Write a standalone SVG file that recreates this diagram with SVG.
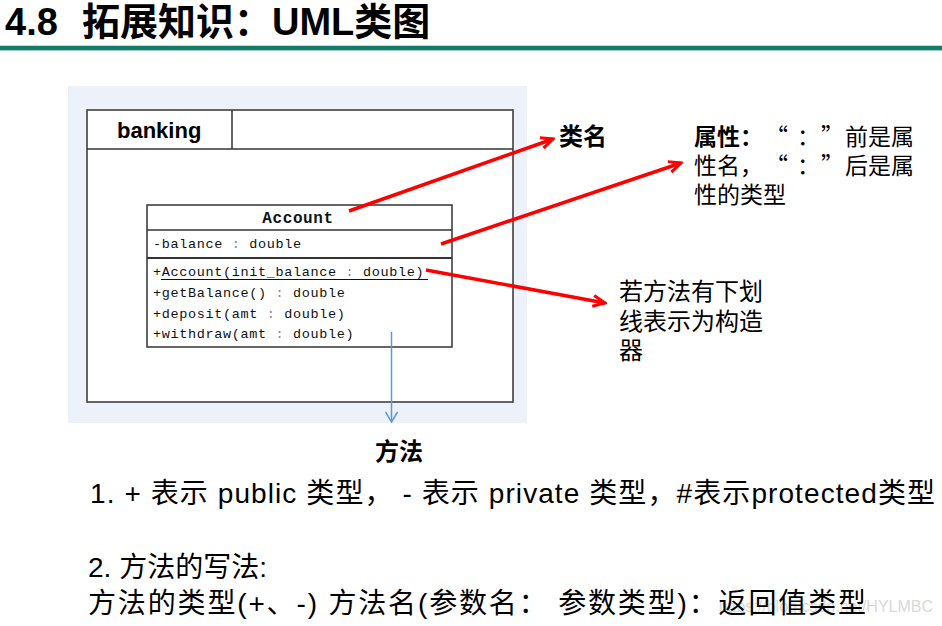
<svg xmlns="http://www.w3.org/2000/svg" width="942" height="626" viewBox="0 0 942 626">
<style>
.sans{font-family:"Liberation Sans","Noto Sans CJK SC",sans-serif;}
.cjk{font-family:"Noto Sans CJK SC",sans-serif;}
.mono{font-family:"Liberation Mono",monospace;font-size:13.5px;letter-spacing:0.65px;fill:#111;}
.box{fill:#fff;stroke:#333;stroke-width:1.5;}
.red{stroke:#ff0000;stroke-width:3.5;fill:none;}
.blue{stroke:#5b9bd5;stroke-width:1.5;fill:none;}
.lbl{font-size:23px;fill:#000;}
.col{fill:#888;}
</style>
<defs>
<marker id="ra" viewBox="0 0 16 14" refX="14" refY="7" markerWidth="16" markerHeight="14" markerUnits="userSpaceOnUse" orient="auto">
<path d="M2,1.5 L14,7 L2,12.5" fill="none" stroke="#ff0000" stroke-width="3"/>
</marker>
<marker id="ba" viewBox="0 0 12 14" refX="11" refY="7" markerWidth="12" markerHeight="14" markerUnits="userSpaceOnUse" orient="auto">
<path d="M1,1 L11,7 L1,13" fill="none" stroke="#5b9bd5" stroke-width="1.5"/>
</marker>
</defs>
<rect width="942" height="626" fill="#fff"/>
<g id="title">
<text class="sans" x="5" y="35" font-size="38" font-weight="bold" fill="#000">4.8<tspan x="82">拓展知识：UML类图</tspan></text>
<line x1="0" y1="45.5" x2="942" y2="45.5" stroke="#c9d6d3" stroke-width="1"/>
<rect x="0" y="46" width="942" height="4" fill="#0f7b68"/>
<line x1="0" y1="50.5" x2="942" y2="50.5" stroke="#9fcbc0" stroke-width="1"/>
</g>
<g id="panel">
<rect x="68" y="86" width="459" height="337" fill="#edf1f9"/>
</g>
<g id="banking">
<rect class="box" x="87" y="110" width="426" height="292"/>
<line x1="87" y1="149" x2="513" y2="149" stroke="#333" stroke-width="1.5"/>
<line x1="232" y1="110" x2="232" y2="149" stroke="#333" stroke-width="1.5"/>
<text class="sans" x="117" y="138" font-size="22" font-weight="bold" fill="#000">banking</text>
</g>
<g id="account">
<rect class="box" x="147" y="205" width="305" height="142"/>
<line x1="147" y1="230" x2="452" y2="230" stroke="#333" stroke-width="1.5"/>
<line x1="147" y1="258" x2="452" y2="258" stroke="#333" stroke-width="2"/>
<text x="298" y="223" text-anchor="middle" font-family="Liberation Mono,monospace" font-size="16" font-weight="bold" letter-spacing="0.6" fill="#111">Account</text>
<text class="mono" x="153" y="248">-balance<tspan class="col"> : </tspan>double</text>
<text class="mono" x="153" y="276">+Account(init_balance<tspan class="col"> : </tspan>double)</text>
<line x1="161" y1="279.5" x2="428" y2="279.5" stroke="#111" stroke-width="1"/>
<text class="mono" x="153" y="297">+getBalance()<tspan class="col"> : </tspan>double</text>
<text class="mono" x="153" y="318">+deposit(amt<tspan class="col"> : </tspan>double)</text>
<text class="mono" x="153" y="338">+withdraw(amt<tspan class="col"> : </tspan>double)</text>
</g>
<g id="connectors">
<line class="red" x1="349" y1="211" x2="553" y2="139" marker-end="url(#ra)"/>
<line class="red" x1="441" y1="244" x2="681" y2="163" marker-end="url(#ra)"/>
<line class="red" x1="426" y1="270" x2="605" y2="303" marker-end="url(#ra)"/>
<line class="blue" x1="391.5" y1="332" x2="391.5" y2="422" marker-end="url(#ba)"/>
</g>
<g id="label-classname">
<text class="cjk" x="559" y="145" font-size="24" font-weight="bold" fill="#000">类名</text>
</g>
<g id="label-attr">
<text class="cjk lbl" x="694" y="145"><tspan font-weight="bold">属性：</tspan><tspan x="765">“</tspan><tspan x="797">：</tspan><tspan x="821">”</tspan><tspan x="845">前是属</tspan></text>
<text class="cjk lbl" x="694" y="174">性名，<tspan x="765">“</tspan><tspan x="797">：</tspan><tspan x="821">”</tspan><tspan x="845">后是属</tspan></text>
<text class="cjk lbl" x="694" y="203">性的类型</text>
</g>
<g id="label-ctor">
<text class="cjk" x="619" y="300" font-size="24" fill="#000">若方法有下划</text>
<text class="cjk" x="619" y="330" font-size="24" fill="#000">线表示为构造</text>
<text class="cjk" x="619" y="359" font-size="24" fill="#000">器</text>
</g>
<g id="label-method">
<text class="cjk" x="375" y="460" font-size="24" font-weight="bold" fill="#000">方法</text>
</g>
<g id="notes">
<text class="sans" x="933" y="612" text-anchor="end" font-size="16" fill="#d9d9d9">https://blog.csdn.net/HYLMBC</text>
<text class="sans" x="90" y="503" font-size="28" fill="#000" textLength="845" lengthAdjust="spacing">1. + 表示 public 类型， - 表示 private 类型，#表示protected类型</text>
<text class="sans" x="88" y="577" font-size="28" fill="#000">2. 方法的写法:</text>
<text class="sans" x="88" y="613" font-size="28" fill="#000" textLength="778" lengthAdjust="spacing">方法的类型(+、-) 方法名(参数名： 参数类型)：返回值类型</text>
</g>
</svg>
